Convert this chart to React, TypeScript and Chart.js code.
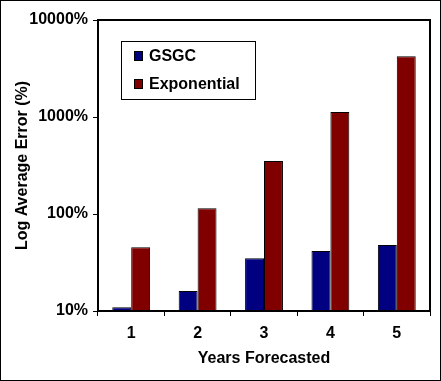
import React, { useEffect, useRef } from "react";
import { Chart, registerables } from "chart.js";

Chart.register(...registerables);

const categories = ["1", "2", "3", "4", "5"];
const gsgcValues = [10.9, 16.1, 34.9, 41.5, 47.9];
const exponentialValues = [45.4, 114.5, 352, 1125, 4220];
const yTickValues = [10, 100, 1000, 10000];
const seriesNames = ["GSGC", "Exponential"];
const seriesColors = ["#000080", "#800000"];

const FONT = "'Liberation Sans', Arial, sans-serif";
const FS = 16;

const framePlugin = {
  id: "frame",
  afterDatasetsDraw(chart: any) {
    const { ctx, chartArea } = chart;
    ctx.save();
    ctx.strokeStyle = "#000";
    ctx.lineWidth = 2;
    ctx.strokeRect(chartArea.left, chartArea.top, chartArea.right - chartArea.left, chartArea.bottom - chartArea.top);
    // legend
    const bx = chartArea.left + 23;
    const by = chartArea.top + 21;
    ctx.lineWidth = 1;
    ctx.fillStyle = "#fff";
    ctx.fillRect(bx, by, 134, 58);
    ctx.strokeRect(bx + 0.5, by + 0.5, 134, 58);
    ctx.font = "bold " + FS + "px " + FONT;
    ctx.textBaseline = "middle";
    seriesNames.forEach((name, i) => {
      const cy = by + 15 + i * 28;
      ctx.fillStyle = seriesColors[i];
      ctx.fillRect(bx + 13, cy - 5, 9, 10);
      ctx.strokeStyle = "#000";
      ctx.strokeRect(bx + 13.5, cy - 4.5, 8, 9);
      ctx.fillStyle = "#000";
      ctx.fillText(name, bx + 28, cy + 1);
    });
    // outer border
    ctx.strokeRect(0.5, 0.5, chart.width - 1, chart.height - 1);
    ctx.restore();
  },
};

export default function App() {
  const ref = useRef<HTMLCanvasElement>(null);
  useEffect(() => {
    document.body.style.margin = "0";
    const chart = new Chart(ref.current!, {
      type: "bar",
      data: {
        labels: categories,
        datasets: [
          {
            label: seriesNames[0],
            data: gsgcValues,
            backgroundColor: seriesColors[0],
            borderColor: "#000",
            borderWidth: 1,
            categoryPercentage: 0.57,
            barPercentage: 1,
          },
          {
            label: seriesNames[1],
            data: exponentialValues,
            backgroundColor: seriesColors[1],
            borderColor: "#000",
            borderWidth: 1,
            categoryPercentage: 0.57,
            barPercentage: 1,
          },
        ],
      },
      options: {
        animation: false,
        responsive: false,
        layout: { padding: { top: 20, right: 11, left: 0, bottom: 0 } },
        plugins: { legend: { display: false }, tooltip: { enabled: false } },
        scales: {
          x: {
            grid: { drawOnChartArea: false, drawTicks: true, tickLength: 5, color: "#000", offset: true },
            border: { color: "#000", width: 2 },
            ticks: { color: "#000", font: { family: FONT, size: FS, weight: "bold" }, padding: 8, maxRotation: 0 },
            title: {
              display: true,
              text: "Years Forecasted",
              color: "#000",
              font: { family: FONT, size: FS, weight: "bold" },
              padding: { top: 0, bottom: 13 },
            },
            afterFit: (s: any) => {
              s.height = 70;
            },
          },
          y: {
            type: "logarithmic",
            min: 10,
            max: 10000,
            grid: { drawOnChartArea: false, drawTicks: true, tickLength: 5, color: "#000" },
            border: { color: "#000", width: 2 },
            ticks: {
              color: "#000",
              font: { family: FONT, size: FS, weight: "bold" },
              padding: 5,
              callback: (v: any) => v + "%",
            },
            afterBuildTicks: (s: any) => {
              s.ticks = yTickValues.map((v) => ({ value: v }));
            },
            title: {
              display: true,
              text: "Log Average Error (%)",
              color: "#000",
              font: { family: FONT, size: FS, weight: "bold" },
              padding: { top: 13, bottom: 0 },
            },
            afterFit: (s: any) => {
              s.width = 98;
            },
          },
        },
      },
      plugins: [framePlugin],
    });
    return () => chart.destroy();
  }, []);
  return <canvas ref={ref} width={441} height={381} />;
}
